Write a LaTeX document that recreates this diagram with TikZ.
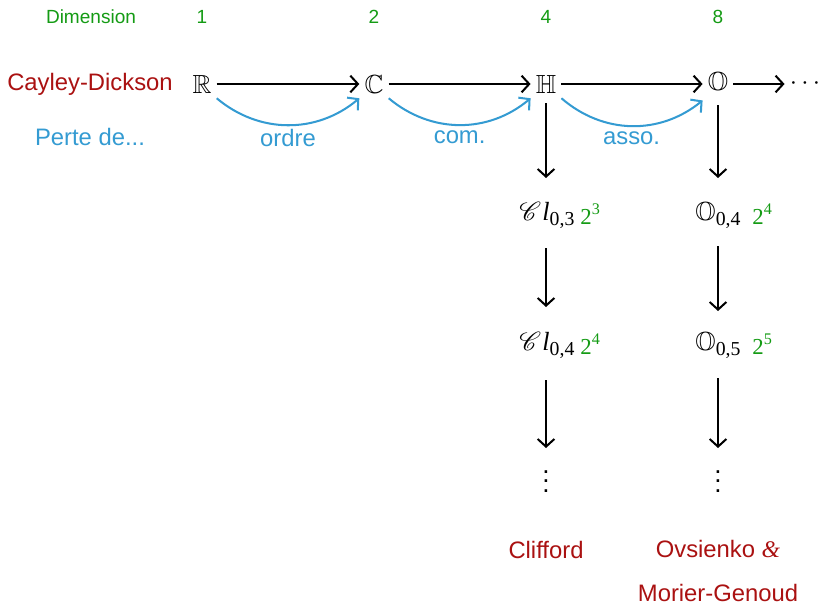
\documentclass[tikz,border=0pt]{standalone}
\usepackage{amssymb}
\usepackage{mathrsfs}
\usepackage{fontspec}
\setmainfont{Liberation Sans}
\newfontfamily\serifrm{Liberation Serif}
\usetikzlibrary{arrows.meta}
\definecolor{dred}{RGB}{170,17,17}
\definecolor{dgreen}{RGB}{20,155,20}
\definecolor{dblue}{RGB}{52,155,210}
\newcommand{\subdig}[1]{\raisebox{-2.1pt}{\serifrm\fontsize{8.3}{8.3}\selectfont #1}}
\newcommand{\powtwo}[1]{{\serifrm\fontsize{9.6}{9.6}\selectfont 2}\raisebox{3.9pt}{\serifrm\fontsize{6.8}{6.8}\selectfont #1}}
\tikzset{
  dimlbl/.style={inner sep=1pt, text=dgreen, font=\footnotesize},
  redlbl/.style={inner sep=1pt, text=dred},
  bluelbl/.style={inner sep=1pt, text=dblue},
  obj/.style={inner sep=2pt, font=\fontsize{11}{13}\selectfont},
  alg/.style={inner sep=0pt, anchor=base west, font=\fontsize{11}{13}\selectfont},
  pw/.style={inner sep=0pt, text=dgreen, anchor=base west},
  blk/.style={-{Straight Barb[length=3.2pt,width=7pt]}, line width=0.85pt, black},
  blu/.style={-{Straight Barb[length=3.2pt,width=7pt]}, line width=0.85pt, dblue},
}
\begin{document}
\begin{tikzpicture}[x=0.42pt,y=-0.42pt]
\useasboundingbox (0,0) rectangle (818,605);
% dimension row
\node[dimlbl] (dim) at (91,17) {Dimension};
\node[dimlbl] (d1) at (202,17) {1};
\node[dimlbl] (d2) at (374,17) {2};
\node[dimlbl] (d4) at (546,17) {4};
\node[dimlbl] (d8) at (718,17) {8};
% Cayley-Dickson row
\node[redlbl] (cd) at (90,84) {Cayley-Dickson};
\node[bluelbl] (perte) at (90,137) {Perte de...};
\node[obj] (R) at (202,84) {$\mathbb{R}$};
\node[obj] (C) at (374,84) {$\mathbb{C}$};
\node[obj] (H) at (546,84) {$\mathbb{H}$};
\node[obj] (O) at (718,84) {$\mathbb{O}$};
\node[obj] (dots) at (805,84) {$\cdots$};
\draw[blk] (R) -- (C);
\draw[blk] (C) -- (H);
\draw[blk] (H) -- (O);
\draw[blk] (O) -- (dots);
\draw[blu] (R.south east) to[bend right=40] node[bluelbl, below=0.5pt] (l1) {ordre} (C.south west);
\draw[blu] (C.south east) to[bend right=40] node[bluelbl, below=1pt] (l2) {com.} (H.south west);
\draw[blu] (H.south east) to[bend right=40] node[bluelbl, below=1pt] (l3) {asso.} (O.south west);
% Clifford column
\node[alg] (cl3) at (519,220) {$\mathscr{C}$\kern0.5pt{\serifrm\itshape l}\subdig{0,3}};
\node[pw] (p1) at (580,224) {\powtwo{3}};
\node[alg] (cl4) at (519,350) {$\mathscr{C}$\kern0.5pt{\serifrm\itshape l}\subdig{0,4}};
\node[pw] (p2) at (580,354) {\powtwo{4}};
\node[obj] (vd1) at (546,474) {$\vdots$};
\coordinate (h1) at (546,103);
\coordinate (h2) at (546,178);
\coordinate (h3) at (546,248);
\coordinate (h4) at (546,307);
\coordinate (h5) at (546,380);
\coordinate (h6) at (546,448);
\draw[blk] (h1) -- (h2);
\draw[blk] (h3) -- (h4);
\draw[blk] (h5) -- (h6);
\node[redlbl] (cliff) at (546,550) {Clifford};
% Octonion column
\node[alg] (o4) at (695,220) {$\mathbb{O}$\subdig{0,4}};
\node[pw] (p3) at (752,224) {\powtwo{4}};
\node[alg] (o5) at (695,350) {$\mathbb{O}$\subdig{0,5}};
\node[pw] (p4) at (752,354) {\powtwo{5}};
\node[obj] (vd2) at (718,474) {$\vdots$};
\coordinate (k1) at (718,105);
\coordinate (k2) at (718,178);
\coordinate (k3) at (718,246);
\coordinate (k4) at (718,311);
\coordinate (k5) at (718,378);
\coordinate (k6) at (718,448);
\draw[blk] (k1) -- (k2);
\draw[blk] (k3) -- (k4);
\draw[blk] (k5) -- (k6);
\node[redlbl] (ovs) at (718,549) {Ovsienko {\serifrm\itshape\&}};
\node[redlbl] (mor) at (718,593) {Morier-Genoud};
\end{tikzpicture}
\end{document}
